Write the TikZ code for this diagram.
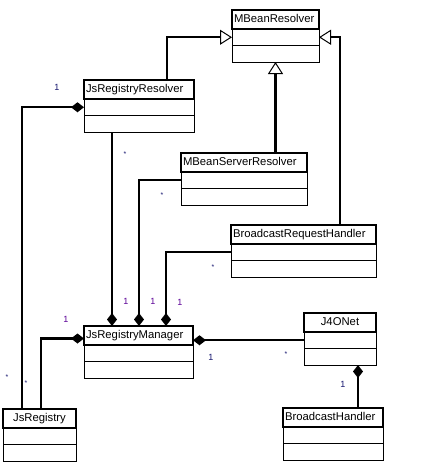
\documentclass[tikz,border=0pt]{standalone}
\usepackage{fontspec}
\setmainfont{Liberation Sans}
\usepackage{tikz}
\usetikzlibrary{arrows.meta,positioning}
\definecolor{multpurple}{RGB}{90,0,150}
\definecolor{multnavy}{RGB}{20,20,110}
\tikzset{
  classhead/.style={draw, line width=2pt, anchor=north west, inner xsep=2pt, inner ysep=0pt, outer sep=0pt,
    minimum height=19pt, text width=#1, align=left, text height=8.5pt, text depth=2.5pt,
    font=\fontsize{11.3}{13}\selectfont},
  classpart/.style={draw, line width=0.8pt, minimum width=#1, minimum height=16.5pt, inner sep=0pt, outer sep=0pt},
  genarrow/.style={line width=2.2pt, -{Triangle[open, length=12pt, width=15pt, line width=1pt]}},
  comparrow/.style={line width=2.2pt, -{Diamond[length=13pt, width=10pt, line width=0pt]}},
  mult/.style={inner sep=0pt, text=multnavy, font=\fontsize{9}{10}\selectfont},
  multstar/.style={mult, font=\fontsize{7}{8}\selectfont},
}

\begin{document}
\begin{tikzpicture}[x=1pt, y=-1pt]
  \useasboundingbox (0,0) rectangle (433,464);
  % define the classes
  \node[classhead=83pt] (MR) at (232,10) {MBeanResolver};
  \node[classpart=87pt, below=0pt of MR] (MR1) {};
  \node[classpart=87pt, below=0pt of MR1] (MR2) {};
  \node[classhead=106pt] (JRR) at (84,80) {JsRegistryResolver};
  \node[classpart=110pt, below=0pt of JRR] (JRR1) {};
  \node[classpart=110pt, below=0pt of JRR1] (JRR2) {};
  \node[classhead=122pt] (MSR) at (181,153) {MBeanServerResolver};
  \node[classpart=126pt, below=0pt of MSR] (MSR1) {};
  \node[classpart=126pt, below=0pt of MSR1] (MSR2) {};
  \node[classhead=141pt] (BRH) at (231,225) {BroadcastRequestHandler};
  \node[classpart=145pt, below=0pt of BRH] (BRH1) {};
  \node[classpart=145pt, below=0pt of BRH1] (BRH2) {};
  \node[classhead=105pt] (JRM) at (84,326) {JsRegistryManager};
  \node[classpart=109pt, below=0pt of JRM] (JRM1) {};
  \node[classpart=109pt, below=0pt of JRM1] (JRM2) {};
  \node[classhead=68pt, align=center] (JN) at (304,313) {J4ONet};
  \node[classpart=72pt, below=0pt of JN] (JN1) {};
  \node[classpart=72pt, below=0pt of JN1] (JN2) {};
  \node[classhead=69pt, align=center] (JR) at (3,409) {JsRegistry};
  \node[classpart=73pt, below=0pt of JR] (JR1) {};
  \node[classpart=73pt, below=0pt of JR1] (JR2) {};
  \node[classhead=96pt] (BH) at (283,408) {BroadcastHandler};
  \node[classpart=100pt, below=0pt of BH] (BH1) {};
  \node[classpart=100pt, below=0pt of BH1] (BH2) {};
  % generalisations
  \draw[genarrow] (JRR.north -| 167,0) |- (MR1.west);
  \draw[genarrow] (MSR.north -| MR2.south) -- (MR2.south);
  \draw[genarrow] (BRH.north -| 340,0) |- (MR1.east);
  % compositions
  \draw[comparrow] (JR.north -| 22,0) |- (JRR1.west);
  \draw[comparrow] (JRR2.south -| 112,0) -- (JRM.north -| 112,0);
  \draw[comparrow] (MSR1.west) -| (JRM.north -| 139,0);
  \draw[comparrow] (BRH1.west) -| (JRM.north -| 166,0);
  \draw[comparrow] (JR.north -| 41,0) |- ([yshift=-3pt]JRM.west);
  \draw[comparrow] (JN1.west) -- (JRM.east |- JN1.west);
  \draw[comparrow] (BH.north -| 358,0) -- (JN2.south -| 358,0);
  % multiplicities
  \node[mult] (m1) at (57,87) {1};
  \node[multstar] (s1) at (7,377) {*};
  \node[multstar] (s2) at (125,154) {*};
  \node[mult, text=multpurple] (m2) at (126,301) {1};
  \node[multstar] (s3) at (162,195) {*};
  \node[mult, text=multpurple] (m3) at (153,301) {1};
  \node[multstar] (s4) at (213,267) {*};
  \node[mult, text=multpurple] (m4) at (180,302) {1};
  \node[mult, text=multpurple] (m5) at (66,319) {1};
  \node[multstar] (s5) at (26,383) {*};
  \node[mult] (m6) at (211,357) {1};
  \node[multstar] (s6) at (286,354) {*};
  \node[mult] (m7) at (343,384) {1};
\end{tikzpicture}
\end{document}
